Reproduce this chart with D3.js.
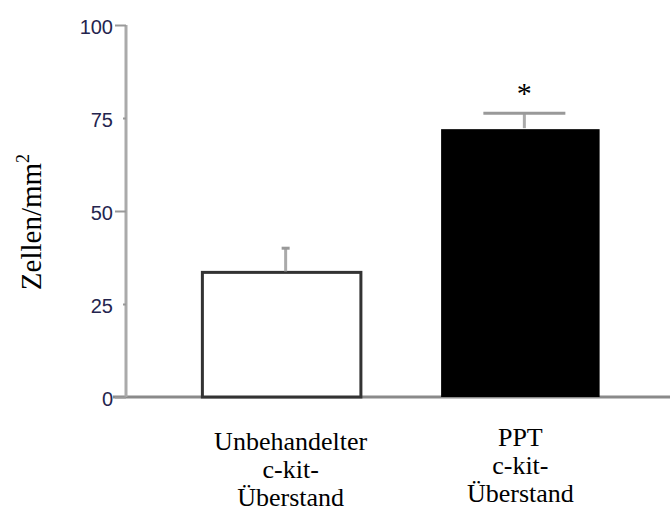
<!DOCTYPE html>
<html><head><meta charset="utf-8">
<script src="https://cdn.jsdelivr.net/npm/d3@7"></script>
<style>body{margin:0;background:#fff} .serif{font-family:'Liberation Serif','Times New Roman',serif}</style>
</head><body>
<script>
const categories = [["Unbehandelter","c-kit-","Überstand"],["PPT","c-kit-","Überstand"]];
const values = [33.5, 72];
const errors = [6.5, 4.3];
const fills = ["#ffffff", "#000000"];
const significance = ["", "*"];
const yTicks = [0, 25, 50, 75, 100];
const majorTicks = [0, 50, 100];

const W = 670, H = 519;
const svg = d3.select("body").append("svg").attr("width", W).attr("height", H);

const y = d3.scaleLinear().domain([0, 100]).range([397, 25]);
const x = d3.scaleBand().domain([0, 1]).range([126, 676]).paddingInner(0.336).paddingOuter(0.32);

// x baseline
svg.append("line").attr("x1", 113).attr("x2", W).attr("y1", y(0)).attr("y2", y(0))
  .attr("stroke", "#8a8a8a").attr("stroke-width", 3);

// y axis
const yAxis = d3.axisLeft(y).tickValues(yTicks).tickSize(11).tickPadding(2);
const ga = svg.append("g").attr("transform", "translate(126,0)").call(yAxis);
ga.select(".domain").attr("stroke", "#aaaaaa").attr("stroke-width", 3).attr("d", `M0,${y(100)}V${y(0)}`);
ga.selectAll(".tick line").attr("stroke", "#999").attr("stroke-width", 2)
  .attr("x2", d => majorTicks.includes(d) ? -11 : -3);
ga.selectAll(".tick text").attr("font-family", "'Liberation Sans', Arial, sans-serif")
  .attr("font-size", 20).attr("fill", "#24244e").attr("dy", "0.4em");

// bars
const idx = [0, 1];
svg.selectAll("rect.bar").data(idx).enter().append("rect")
  .attr("x", d => x(d)).attr("width", x.bandwidth())
  .attr("y", d => y(values[d])).attr("height", d => y(0) - y(values[d]))
  .attr("fill", d => fills[d]).attr("stroke", "#333").attr("stroke-width", d => d === 0 ? 3 : 0);

// error bars
const errX = d => x(d) + x.bandwidth() / 2 + 4;
svg.selectAll("line.err").data(idx).enter().append("line")
  .attr("x1", errX).attr("x2", errX)
  .attr("y1", d => y(values[d]) - 1).attr("y2", d => y(values[d] + errors[d]))
  .attr("stroke", "#aaaaaa").attr("stroke-width", 3);
const capW = [8, 82];
svg.selectAll("line.cap").data(idx).enter().append("line")
  .attr("x1", d => errX(d) - capW[d] / 2).attr("x2", d => errX(d) + capW[d] / 2)
  .attr("y1", d => y(values[d] + errors[d])).attr("y2", d => y(values[d] + errors[d]))
  .attr("stroke", "#999").attr("stroke-width", 3);

// significance
svg.selectAll("text.sig").data(idx).enter().append("text")
  .attr("class", "serif")
  .attr("x", errX).attr("y", d => y(values[d] + errors[d]) - 10)
  .attr("text-anchor", "middle")
  .style("font-size", "30px").text(d => significance[d]);

// category labels
idx.forEach(d => {
  const t = svg.append("text").attr("class", "serif").attr("text-anchor", "middle")
    .style("font-size", "26px").attr("fill", "#000");
  categories[d].forEach((line, i) => {
    t.append("tspan")
      .attr("x", x(d) + x.bandwidth() / 2 + (d === 0 ? 9 : 0))
      .attr("y", (d === 0 ? 450 : 446) + i * 28).text(line);
  });
});

// y title
svg.append("text").attr("class", "serif").attr("transform", "translate(41,222) rotate(-90)")
  .attr("text-anchor", "middle")
  .style("font-size", "29px").attr("fill", "#000")
  .html('Zellen/mm<tspan dy="-12" font-size="18">2</tspan>');
</script>
</body></html>
